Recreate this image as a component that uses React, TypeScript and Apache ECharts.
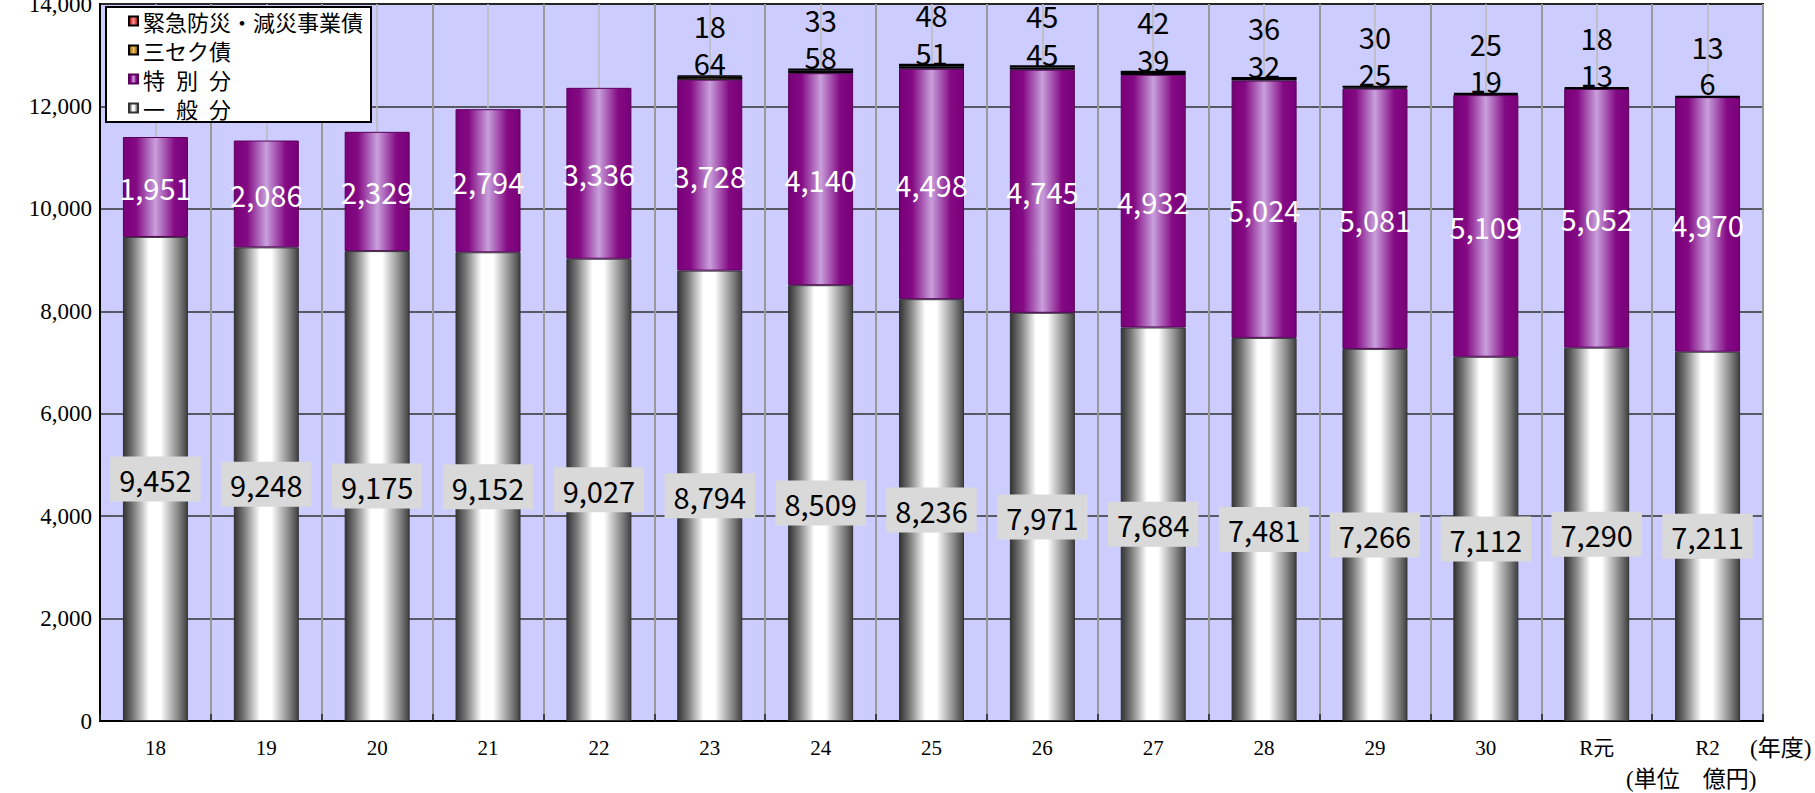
import React, { useEffect, useRef } from "react";
import * as echarts from "echarts";

const categories = ["18", "19", "20", "21", "22", "23", "24", "25", "26", "27", "28", "29", "30", "R元", "R2"];
const ippan = [9452, 9248, 9175, 9152, 9027, 8794, 8509, 8236, 7971, 7684, 7481, 7266, 7112, 7290, 7211];
const tokubetsu = [1951, 2086, 2329, 2794, 3336, 3728, 4140, 4498, 4745, 4932, 5024, 5081, 5109, 5052, 4970];
const sanseku = [null, null, null, null, null, 64, 58, 51, 45, 39, 32, 25, 19, 13, 6];
const kinkyu = [null, null, null, null, null, 18, 33, 48, 45, 42, 36, 30, 25, 18, 13];
const yTicks = { min: 0, max: 14000, interval: 2000 };

const seriesNames = ["緊急防災・減災事業債", "三セク債", "特\u2002別\u2002分", "一\u2002般\u2002分"];

const fmt = (v: any) => (v == null || v === 0 ? "" : Number(v).toLocaleString("en-US"));

const grad = (stops: [number, string][]) =>
  new echarts.graphic.LinearGradient(0, 0, 1, 0, stops.map(([offset, color]) => ({ offset, color })));

const labelFont = "'Noto Sans CJK JP', 'Noto Sans', sans-serif";
const serifFont = "'Liberation Serif', 'DejaVu Serif', 'Noto Sans CJK JP', serif";

export default function App() {
  const ref = useRef<HTMLDivElement>(null);
  useEffect(() => {
    if (!ref.current) return;
    const chart = echarts.init(ref.current, undefined, { renderer: "svg" });
    const option: any = {
      animation: false,
      backgroundColor: "#ffffff",
      grid: {
        left: 100,
        top: 4,
        right: 52,
        bottom: 72,
        outerBoundsMode: "none",
        containLabel: false,
        show: true,
        backgroundColor: "#ccccff",
        borderColor: "#000",
        borderWidth: 2,
      },
      legend: {
        orient: "vertical",
        left: 106,
        top: 7,
        backgroundColor: "#ffffff",
        borderColor: "#000",
        borderWidth: 2,
        padding: [3, 8, 3, 22],
        itemGap: 7,
        itemWidth: 9,
        itemHeight: 9,
        icon: "rect",
        textStyle: { fontSize: 22, fontFamily: labelFont, color: "#000", lineHeight: 22 },
        data: seriesNames,
        z: 10,
      },
      xAxis: [
        {
          type: "category",
          data: categories,
          axisLine: { show: true, lineStyle: { color: "#000", width: 2 } },
          axisTick: { show: true, inside: true, length: 7, lineStyle: { color: "#222", width: 1.5 } },
          axisLabel: { fontSize: 21, fontFamily: serifFont, color: "#000", margin: 16 },
          splitLine: { show: false },
        },
        {
          type: "value",
          min: 0,
          max: 15,
          interval: 1,
          position: "bottom",
          axisLine: { show: false },
          axisTick: { show: false },
          axisLabel: { show: false },
          splitLine: { show: true, lineStyle: { color: "#999999", width: 2 } },
          minorTick: { show: false, splitNumber: 2 },
          minorSplitLine: { show: true, lineStyle: { color: "#bbbbbb", width: 1.5 } },
        },
      ],
      yAxis: {
        type: "value",
        min: yTicks.min,
        max: yTicks.max,
        interval: yTicks.interval,
        axisLine: { show: true, lineStyle: { color: "#000", width: 2 } },
        axisTick: { show: false },
        axisLabel: {
          fontSize: 23,
          fontFamily: serifFont,
          color: "#000",
          margin: 8,
          formatter: (v: number) => v.toLocaleString("en-US"),
        },
        splitLine: { show: true, lineStyle: { color: "#333333", width: 1.5 } },
      },
      graphic: [
        {
          type: "text",
          left: 1750,
          top: 737,
          style: { text: "(年度)", fontSize: 23, fontFamily: serifFont, fill: "#000" },
        },
        {
          type: "text",
          left: 1626,
          top: 768,
          style: { text: "(単位　億円)", fontSize: 23, fontFamily: serifFont, fill: "#000" },
        },
      ],
      series: [
        {
          name: seriesNames[3],
          type: "bar",
          stack: "total",
          barWidth: 65,
          data: ippan,
          itemStyle: {
            color: grad([
              [0, "#333333"],
              [0.15, "#777777"],
              [0.4, "#ffffff"],
              [0.58, "#ffffff"],
              [0.85, "#888888"],
              [1, "#404040"],
            ]),
            borderColor: "#333",
            borderWidth: 1,
          },
          label: {
            show: true,
            position: "inside",
            formatter: (p: any) => fmt(p.value),
            fontSize: 29,
            fontFamily: labelFont,
            color: "#000",
            backgroundColor: "#d9d9d9",
            padding: [7, 9, 7, 9],
            lineHeight: 31,
          },
          z: 2,
        },
        {
          name: seriesNames[2],
          type: "bar",
          stack: "total",
          barWidth: 65,
          data: tokubetsu,
          itemStyle: {
            color: grad([
              [0, "#7a007a"],
              [0.2, "#840a84"],
              [0.5, "#c8a0dc"],
              [0.8, "#840a84"],
              [1, "#7a007a"],
            ]),
            borderColor: "#5a005a",
            borderWidth: 1,
          },
          label: {
            show: true,
            position: "inside",
            formatter: (p: any) => fmt(p.value),
            fontSize: 29,
            fontFamily: labelFont,
            color: "#ffffff",
            lineHeight: 31,
          },
          z: 2,
        },
        {
          name: seriesNames[1],
          type: "bar",
          stack: "total",
          barWidth: 65,
          data: sanseku,
          itemStyle: {
            color: grad([
              [0, "#6b4c00"],
              [0.5, "#f4c060"],
              [1, "#6b4c00"],
            ]),
            borderColor: "#000",
            borderWidth: 1.5,
          },
          label: {
            show: true,
            position: "top",
            distance: 0,
            formatter: (p: any) => fmt(p.value),
            fontSize: 29,
            fontFamily: labelFont,
            color: "#000",
            lineHeight: 28,
          },
          z: 3,
        },
        {
          name: seriesNames[0],
          type: "bar",
          stack: "total",
          barWidth: 65,
          data: kinkyu,
          itemStyle: {
            color: grad([
              [0, "#a00000"],
              [0.5, "#ff9090"],
              [1, "#a00000"],
            ]),
            borderColor: "#000",
            borderWidth: 1.5,
          },
          label: {
            show: true,
            position: "top",
            distance: 36,
            formatter: (p: any) => fmt(p.value),
            fontSize: 29,
            fontFamily: labelFont,
            color: "#000",
            lineHeight: 28,
          },
          z: 3,
        },
      ],
    };
    chart.setOption(option);
    return () => chart.dispose();
  }, []);
  return (
    <div
      ref={ref}
      style={{ position: "fixed", left: 0, top: 0, width: 1815, height: 793, background: "#fff" }}
    />
  );
}
